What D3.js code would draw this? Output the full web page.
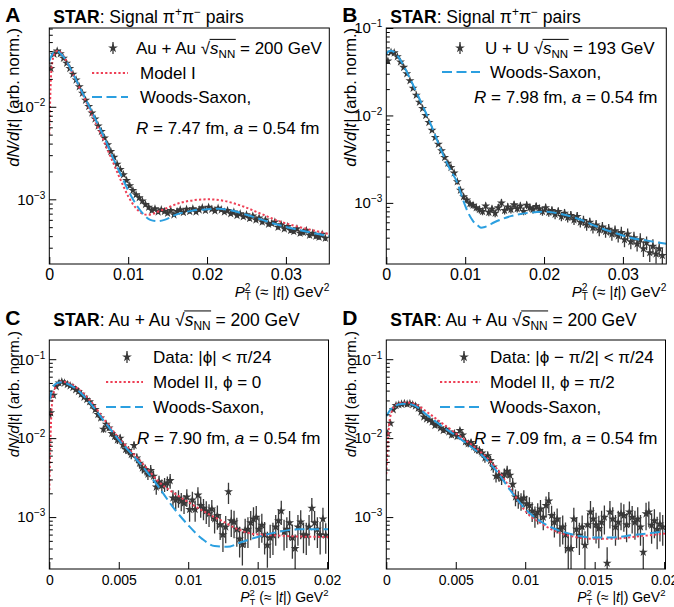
<!DOCTYPE html>
<html>
<head>
<meta charset="utf-8">
<script src="https://cdn.jsdelivr.net/npm/d3@7"></script>
<style>
  body { margin: 0; background: #fff; }
  svg { font-family: "Liberation Sans", Arial, sans-serif; }
</style>
</head>
<body>
<svg id="fig" width="674" height="607"></svg>
<script>
// values are in units of 1e-5, errors are relative (%)
const unit = 1e-5;

// A: Au+Au 200 GeV, bins of 0.0004 GeV^2
const binA = 0.0004;
const yA = [2600, 3700, 4000, 3750, 3350, 2950, 2600, 2250, 1950, 1650,
  1400, 1180, 1010, 860, 740, 620, 540, 460, 390, 330,
  285, 240, 210, 185, 160, 140, 125, 112, 104, 96,
  88, 82, 76, 79, 73, 77, 74, 71, 76, 68,
  74, 77, 72, 78, 74, 79, 73, 77, 81, 76,
  82, 78, 75, 80, 77, 73, 76, 70, 73, 67,
  70, 65, 68, 62, 66, 60, 63, 57, 60, 54,
  55, 57, 50, 53, 48, 51, 46, 45, 48, 43,
  44, 46, 41, 43, 40, 39, 42, 38];
const eA = [6, 3, 2, 2, 2, 2, 2, 2, 2, 2,
  2, 2, 2, 2, 3, 3, 3, 3, 3, 3,
  3, 3, 4, 4, 4, 4, 4, 4, 4, 4,
  5, 5, 5, 5, 5, 5, 5, 5, 5, 5,
  5, 5, 5, 5, 5, 5, 5, 5, 5, 5,
  5, 5, 5, 5, 5, 5, 5, 5, 5, 5,
  6, 6, 6, 6, 6, 6, 6, 6, 6, 6,
  6, 6, 6, 6, 6, 6, 6, 6, 6, 6,
  7, 7, 7, 7, 7, 7, 7, 7];
const wsAx = [0, 0.0003, 0.0006, 0.001, 0.0015, 0.002, 0.003, 0.004, 0.005, 0.006, 0.007, 0.008, 0.009, 0.010, 0.011, 0.012, 0.0128, 0.0137, 0.0146, 0.016, 0.018, 0.020, 0.0215, 0.023, 0.025, 0.027, 0.029, 0.031, 0.033, 0.0355];
const wsAy = [0.031, 0.036, 0.039, 0.0395, 0.037, 0.033, 0.0228, 0.0153, 0.0103, 0.0069, 0.0046, 0.0029, 0.0019, 0.00125, 0.00088, 0.00068, 0.0006, 0.00058, 0.0006, 0.00068, 0.00075, 0.00078, 0.00079, 0.00076, 0.00068, 0.0006, 0.00053, 0.00048, 0.00044, 0.0004];
const m1Ax = [0, 0.0001, 0.0002, 0.0004, 0.0007, 0.001, 0.0015, 0.002, 0.003, 0.004, 0.005, 0.006, 0.007, 0.008, 0.009, 0.010, 0.011, 0.0118, 0.0125, 0.0142, 0.0163, 0.0184, 0.0201, 0.0222, 0.0247, 0.0268, 0.0289, 0.031, 0.0331, 0.0355];
const m1Ay = [0.005, 0.011, 0.02, 0.031, 0.038, 0.040, 0.038, 0.033, 0.0225, 0.0150, 0.0098, 0.0064, 0.0041, 0.0026, 0.00165, 0.00108, 0.0008, 0.0007, 0.00068, 0.00076, 0.0009, 0.00098, 0.001, 0.00096, 0.00083, 0.0007, 0.00059, 0.00052, 0.00047, 0.00042];

// B: U+U 193 GeV, bins of 0.0004 GeV^2
const binB = 0.0004;
const yB = [4200, 5300, 5200, 4700, 4100, 3550, 3000, 2500, 2050, 1700,
  1420, 1200, 1000, 830, 680, 560, 470, 395, 330, 285,
  255, 220, 175, 140, 118, 108, 98, 94, 88, 84,
  80, 92, 78, 85, 76, 88, 100, 82, 90, 84,
  95, 86, 92, 80, 94, 88, 84, 91, 86, 80,
  88, 78, 82, 74, 80, 70, 76, 68, 72, 64,
  70, 60, 63, 56, 60, 52, 56, 49, 53, 47,
  50, 44, 48, 42, 46, 38, 44, 36, 40, 34,
  38, 30, 35, 27, 32, 26, 30, 25];
const eB = [6, 3, 2, 2, 2, 2, 2, 2, 2, 3,
  3, 3, 3, 3, 4, 4, 4, 5, 5, 5,
  6, 6, 7, 7, 8, 8, 9, 9, 9, 10,
  10, 10, 10, 10, 10, 10, 11, 10, 10, 10,
  10, 10, 10, 10, 10, 10, 10, 10, 11, 11,
  11, 11, 11, 12, 11, 12, 12, 12, 12, 13,
  12, 13, 13, 14, 13, 14, 14, 15, 14, 15,
  15, 16, 15, 16, 16, 18, 16, 18, 17, 18,
  18, 20, 18, 22, 20, 22, 20, 22];
const wsBx = [0, 0.0003, 0.0006, 0.001, 0.0015, 0.002, 0.003, 0.004, 0.005, 0.006, 0.007, 0.008, 0.009, 0.0097, 0.0103, 0.011, 0.0116, 0.012, 0.0125, 0.0137, 0.0159, 0.018, 0.0202, 0.0223, 0.0245, 0.0266, 0.0288, 0.0309, 0.0331, 0.0355];
const wsBy = [0.05, 0.054, 0.055, 0.053, 0.047, 0.040, 0.0265, 0.017, 0.0108, 0.0066, 0.0039, 0.0025, 0.0017, 0.0011, 0.0008, 0.00062, 0.00055, 0.00052, 0.00053, 0.0006, 0.00071, 0.00077, 0.00079, 0.00074, 0.00065, 0.00054, 0.00046, 0.0004, 0.00037, 0.00034];

// C: Au+Au, |phi| < pi/24, bins of 0.0002 GeV^2
const binC = 0.0002;
const yC = [2100, 3500, 4500, 5000, 5200, 5000, 4800, 4600, 4400, 4100,
  3900, 3600, 3300, 3100, 2900, 2600, 2300, 2000, 1800, 1300,
  1500, 1350, 1150, 1050, 950, 1000, 820, 720, 700, 620,
  810, 560, 480, 420, 400, 350, 390, 330, 240, 280,
  250, 260, 270, 290, 175, 165, 175, 160, 150, 180,
  125, 165, 125, 190, 140, 130, 120, 110, 127, 95,
  105, 80, 60, 75, 210, 90, 87, 70, 53, 45,
  68, 70, 85, 95, 100, 70, 79, 60, 44, 55,
  59, 75, 90, 120, 65, 70, 85, 55, 40, 75,
  87, 60, 59, 75, 130, 85, 70, 60, 95, 59];
const eC = [15, 8, 5, 4, 4, 4, 4, 4, 4, 5,
  5, 5, 5, 6, 6, 6, 7, 7, 8, 10,
  9, 9, 10, 10, 11, 11, 12, 12, 13, 13,
  12, 14, 15, 15, 16, 16, 17, 18, 20, 19,
  20, 20, 21, 21, 25, 25, 25, 26, 27, 25,
  30, 27, 30, 26, 30, 30, 32, 32, 30, 35,
  34, 36, 40, 38, 30, 38, 38, 40, 42, 46,
  40, 42, 40, 40, 38, 42, 40, 44, 48, 45,
  44, 42, 40, 34, 42, 42, 40, 46, 50, 42,
  40, 42, 44, 42, 34, 40, 42, 44, 38, 42];
const wsCx = [0, 0.0002, 0.0005, 0.0009, 0.0015, 0.002, 0.003, 0.004, 0.005, 0.006, 0.007, 0.0078, 0.009, 0.010, 0.011, 0.0119, 0.0128, 0.0138, 0.015, 0.0165, 0.0179, 0.0201];
const wsCy = [0.03, 0.042, 0.049, 0.051, 0.047, 0.041, 0.027, 0.016, 0.0095, 0.0061, 0.0038, 0.0025, 0.00127, 0.00079, 0.00053, 0.00043, 0.00042, 0.00048, 0.00056, 0.00065, 0.0007, 0.0007];
const m2Cx = [0, 0.0001, 0.0002, 0.0004, 0.0006, 0.0009, 0.0015, 0.002, 0.003, 0.004, 0.005, 0.006, 0.007, 0.0078, 0.009, 0.010, 0.0112, 0.0124, 0.0136, 0.0145, 0.016, 0.0177, 0.0201];
const m2Cy = [0.0022, 0.012, 0.028, 0.042, 0.049, 0.052, 0.049, 0.043, 0.029, 0.0168, 0.0101, 0.0065, 0.0042, 0.0029, 0.002, 0.00155, 0.00116, 0.0009, 0.0007, 0.00062, 0.00059, 0.00057, 0.00056];

// D: Au+Au, |phi - pi/2| < pi/24, bins of 0.0002 GeV^2
const binD = 0.0002;
const yD = [1150, 1550, 2300, 2600, 2650, 2700, 2750, 2700, 2750, 2650,
  2550, 2400, 2150, 1850, 1750, 1700, 1600, 1450, 1500, 1350,
  1250, 1300, 1200, 1100, 1150, 1050, 1250, 1100, 900, 850,
  880, 780, 720, 700, 650, 560, 600, 520, 430, 330,
  340, 310, 350, 380, 340, 260, 180, 170, 160, 175,
  148, 140, 120, 105, 115, 127, 100, 140, 160, 105,
  86, 95, 70, 75, 60, 40, 40, 95, 70, 59,
  75, 44, 80, 116, 95, 80, 72, 86, 100, 26,
  116, 95, 75, 86, 110, 105, 80, 116, 100, 86,
  95, 75, 36, 110, 116, 79, 90, 70, 82, 75];
const eD = [8, 6, 4, 4, 4, 4, 4, 4, 4, 4,
  4, 4, 5, 5, 5, 5, 6, 6, 6, 6,
  7, 7, 7, 8, 8, 8, 8, 9, 10, 10,
  10, 11, 11, 12, 12, 13, 13, 14, 15, 17,
  17, 18, 18, 18, 19, 20, 24, 25, 25, 25,
  26, 27, 28, 30, 30, 30, 32, 30, 30, 33,
  36, 35, 40, 40, 42, 55, 55, 38, 42, 44,
  40, 50, 42, 38, 40, 42, 44, 40, 40, 60,
  38, 40, 42, 40, 38, 38, 40, 36, 38, 40,
  40, 42, 55, 38, 36, 42, 40, 44, 40, 42];
const wsDx = [0, 0.0003, 0.0007, 0.0011, 0.0015, 0.002, 0.003, 0.004, 0.005, 0.006, 0.007, 0.008, 0.009, 0.010, 0.0112, 0.0124, 0.0136, 0.0148, 0.0162, 0.0177, 0.0201];
const wsDy = [0.019, 0.023, 0.026, 0.027, 0.0272, 0.026, 0.0192, 0.0142, 0.0108, 0.008, 0.0058, 0.0037, 0.0021, 0.00127, 0.00086, 0.00068, 0.00059, 0.00055, 0.00055, 0.00059, 0.00066];
const m2Dx = [0, 0.0001, 0.0002, 0.0004, 0.0007, 0.0011, 0.0015, 0.002, 0.003, 0.004, 0.005, 0.006, 0.007, 0.008, 0.009, 0.010, 0.0112, 0.0124, 0.0136, 0.0148, 0.0162, 0.0177, 0.0201];
const m2Dy = [0.0035, 0.008, 0.0145, 0.022, 0.0265, 0.028, 0.0282, 0.0272, 0.021, 0.0155, 0.0115, 0.0086, 0.0062, 0.004, 0.0022, 0.0012, 0.00082, 0.00064, 0.00056, 0.00053, 0.00053, 0.00056, 0.00062];

// axis ticks
const xTicksAB = [0, 0.01, 0.02, 0.03];
const xTicksCD = [0, 0.005, 0.01, 0.015, 0.02];
const yDecades = [1e-1, 1e-2, 1e-3];

const red = '#ee3f55', blue = '#2b9fe0', ink = '#383838';

const svg = d3.select('#fig');

// text with bold/italic/super/subscript pieces
function rich(parent, x, y, size, segs, anchor) {
  const t = parent.append('text').attr('x', x).attr('y', y)
    .attr('font-size', size).attr('text-anchor', anchor || 'start');
  let shift = 0;
  segs.forEach(s => {
    const ts = t.append('tspan').text(s.t);
    let target = 0;
    if (s.sup) target = -size * 0.4;
    if (s.sub) target = size * 0.22;
    if (target - shift) ts.attr('dy', target - shift);
    shift = target;
    if (s.sup || s.sub) ts.attr('font-size', size * 0.68);
    if (s.b) ts.attr('font-weight', 'bold');
    if (s.i) ts.attr('font-style', 'italic');
    if (s.dx) ts.attr('dx', s.dx);
  });
  return t;
}

// draws the bar of the square root over s_NN
function rootBar(t, size) {
  const node = t.node();
  const str = node.textContent;
  const i0 = str.indexOf('√'), i1 = str.indexOf('NN') + 1;
  const x0 = node.getEndPositionOfChar(i0).x - 0.5;
  const x1 = node.getEndPositionOfChar(i1).x + 0.5;
  const yb = +t.attr('y') - size * 0.86;
  d3.select(node.parentNode).append('line')
    .attr('x1', x0).attr('x2', x1).attr('y1', yb).attr('y2', yb)
    .attr('stroke', '#000').attr('stroke-width', 1);
}

const sNN = [{ t: '√' }, { t: 's', i: true }, { t: 'NN', sub: true }];

function drawPanel(p) {
  const x = d3.scaleLinear().domain([0, p.xMax]).range([p.left, p.right]);
  const y = d3.scaleLog().domain([p.yMin, p.yMax]).range([p.bottom, p.top]);
  const g = svg.append('g');

  g.append('clipPath').attr('id', 'clip' + p.key).append('rect')
    .attr('x', p.left).attr('y', p.top)
    .attr('width', p.right - p.left).attr('height', p.bottom - p.top);
  const plot = g.append('g').attr('clip-path', `url(#clip${p.key})`);

  const pts = p.vals.map((v, i) => ({ x: (i + 0.5) * p.bin, y: v * unit, e: v * unit * p.errs[i] / 100 }));

  plot.selectAll('line.err').data(pts).enter().append('line')
    .attr('class', 'err')
    .attr('x1', d => x(d.x)).attr('x2', d => x(d.x))
    .attr('y1', d => y(Math.max(d.y - d.e, p.yMin * 0.5)))
    .attr('y2', d => y(d.y + d.e))
    .attr('stroke', ink).attr('stroke-width', 1.3);

  const star = d3.symbol().type(d3.symbolStar).size(25);
  plot.selectAll('path.pt').data(pts).enter().append('path')
    .attr('class', 'pt')
    .attr('d', star)
    .attr('transform', d => `translate(${x(d.x)},${y(d.y)})`)
    .attr('fill', ink);

  const line = d3.line().x(d => x(d[0])).y(d => y(d[1])).curve(d3.curveMonotoneX);
  if (p.model) {
    plot.append('path').attr('d', line(d3.zip(p.model[0], p.model[1])))
      .attr('fill', 'none').attr('stroke', red).attr('stroke-width', 2)
      .attr('stroke-dasharray', '2.2,2.2');
  }
  plot.append('path').attr('d', line(d3.zip(p.ws[0], p.ws[1])))
    .attr('fill', 'none').attr('stroke', blue).attr('stroke-width', 2)
    .attr('stroke-dasharray', '10,4.5');

  // axes
  const xa = d3.axisBottom(x).tickValues(p.xt).tickSize(-7).tickPadding(p.xtickPad)
    .tickFormat(d => d === 0 ? '0' : String(d));
  const gx = g.append('g').attr('transform', `translate(0,${p.bottom})`).call(xa);
  gx.attr('font-family', null).attr('font-size', p.xtickSize);
  gx.select('.domain').remove();

  const minors = [];
  [1e-4, 1e-3, 1e-2, 1e-1].forEach(dec => {
    for (let k = 2; k <= 9; k++) if (dec * k > p.yMin && dec * k < p.yMax) minors.push(dec * k);
  });
  const gym = g.append('g').attr('transform', `translate(${p.left},0)`)
    .call(d3.axisLeft(y).tickValues(minors).tickSize(-3.5).tickFormat(''));
  gym.select('.domain').remove();

  const ya = d3.axisLeft(y).tickValues(yDecades.filter(v => v >= p.yMin && v <= p.yMax * 1.01))
    .tickSize(-7).tickPadding(4).tickFormat(() => '10');
  const gy = g.append('g').attr('transform', `translate(${p.left},0)`).call(ya);
  gy.attr('font-family', null).attr('font-size', 15);
  gy.select('.domain').remove();
  gy.selectAll('.tick text').append('tspan').attr('dy', -6).attr('font-size', 10)
    .text(d => '−' + Math.round(-Math.log10(d)));

  g.append('rect').attr('x', p.left).attr('y', p.top)
    .attr('width', p.right - p.left).attr('height', p.bottom - p.top)
    .attr('fill', 'none').attr('stroke', '#000').attr('stroke-width', 1);

  // axis titles
  const yt = rich(g, 0, 0, p.ylabSize, [{ t: 'dN/d|t|', i: true }, { t: ' (arb. norm.)' }], 'end');
  yt.attr('transform', `translate(${p.left - 30},${p.ylabTop}) rotate(-90)`);
  rich(g, p.right, p.xlabY, p.xlabSize, [{ t: 'P', i: true }, { t: '2', sup: true },
    { t: 'T', sub: true, dx: -p.xlabSize * 0.38 }, { t: ' (≈ |' }, { t: 't', i: true }, { t: '|) GeV' }, { t: '2', sup: true }], 'end');

  // panel letter and title
  g.append('text').attr('x', p.left - 44).attr('y', p.labY).attr('font-size', 21)
    .attr('font-weight', 'bold').text(p.key);
  const tt = rich(g, p.left + 4, p.labY + 1, 17.5, p.title);
  if (p.titleRoot) rootBar(tt, 17.5);

  // legend
  const L = p.legend;
  const lg = g.append('g');
  lg.append('line').attr('x1', L.mx).attr('x2', L.mx).attr('y1', L.rows[0] - 6).attr('y2', L.rows[0] + 6)
    .attr('stroke', ink).attr('stroke-width', 1.3);
  lg.append('path').attr('d', d3.symbol().type(d3.symbolStar).size(30)())
    .attr('transform', `translate(${L.mx},${L.rows[0]})`).attr('fill', ink);
  L.items.forEach((it, i) => {
    const yy = L.rows[i];
    if (it.style) {
      lg.append('line').attr('x1', L.lx0).attr('x2', L.lx1).attr('y1', yy).attr('y2', yy)
        .attr('stroke', it.style === 'model' ? red : blue).attr('stroke-width', 2)
        .attr('stroke-dasharray', it.style === 'model' ? '2.2,2.2' : '10,4.5');
    }
    const t = rich(lg, it.x, yy + 6, 17, it.segs);
    if (it.root) rootBar(t, 17);
  });
}

const rLine = (r) => [{ t: 'R', i: true }, { t: ` = ${r} fm, ` }, { t: 'a', i: true }, { t: ' = 0.54 fm' }];

const panels = [
  {
    key: 'A', left: 49.3, right: 329.3, top: 28, bottom: 264, xMax: 0.0355, yMin: 2e-4, yMax: 0.071,
    bin: binA, vals: yA, errs: eA, ws: [wsAx, wsAy], model: [m1Ax, m1Ay], xt: xTicksAB,
    xtickSize: 16, xtickPad: 5,
    ylabSize: 16.5, ylabTop: 28, xlabSize: 15, xlabY: 297, labY: 22,
    title: [{ t: 'STAR', b: true }, { t: ': Signal π' }, { t: '+', sup: true }, { t: 'π' }, { t: '−', sup: true }, { t: ' pairs' }],
    legend: {
      mx: 113, lx0: 92, lx1: 128, rows: [48, 73, 97, 128],
      items: [
        { x: 136, segs: [{ t: 'Au + Au ' }].concat(sNN, [{ t: ' = 200 GeV' }]), root: true },
        { x: 140, style: 'model', segs: [{ t: 'Model I' }] },
        { x: 140, style: 'ws', segs: [{ t: 'Woods-Saxon,' }] },
        { x: 136, segs: rLine('7.47') }
      ]
    }
  },
  {
    key: 'B', left: 386.3, right: 666.3, top: 28, bottom: 264, xMax: 0.0355, yMin: 2e-4, yMax: 0.1,
    bin: binB, vals: yB, errs: eB, ws: [wsBx, wsBy], model: null, xt: xTicksAB,
    xtickSize: 16, xtickPad: 5,
    ylabSize: 16.5, ylabTop: 28, xlabSize: 15, xlabY: 297, labY: 22,
    title: [{ t: 'STAR', b: true }, { t: ': Signal π' }, { t: '+', sup: true }, { t: 'π' }, { t: '−', sup: true }, { t: ' pairs' }],
    legend: {
      mx: 460, lx0: 442, lx1: 480, rows: [48, 72, 97],
      items: [
        { x: 485, segs: [{ t: 'U + U ' }].concat(sNN, [{ t: ' = 193 GeV' }]), root: true },
        { x: 490, style: 'ws', segs: [{ t: 'Woods-Saxon,' }] },
        { x: 474, segs: rLine('7.98') }
      ]
    }
  },
  {
    key: 'C', left: 49.3, right: 328.5, top: 340, bottom: 569, xMax: 0.0201, yMin: 2.2e-4, yMax: 0.175,
    bin: binC, vals: yC, errs: eC, ws: [wsCx, wsCy], model: [m2Cx, m2Cy], xt: xTicksCD,
    xtickSize: 14, xtickPad: 6,
    ylabSize: 15, ylabTop: 331, xlabSize: 14, xlabY: 602, labY: 325,
    title: [{ t: 'STAR', b: true }, { t: ': Au + Au ' }].concat(sNN, [{ t: ' = 200 GeV' }]), titleRoot: true,
    legend: {
      mx: 127, lx0: 106, lx1: 143, rows: [357, 382, 407, 438],
      items: [
        { x: 153, segs: [{ t: 'Data: |ϕ| < π/24' }] },
        { x: 153, style: 'model', segs: [{ t: 'Model II, ϕ = 0' }] },
        { x: 153, style: 'ws', segs: [{ t: 'Woods-Saxon,' }] },
        { x: 137, segs: rLine('7.90') }
      ]
    }
  },
  {
    key: 'D', left: 386.3, right: 665.5, top: 340, bottom: 569, xMax: 0.0201, yMin: 2.2e-4, yMax: 0.175,
    bin: binD, vals: yD, errs: eD, ws: [wsDx, wsDy], model: [m2Dx, m2Dy], xt: xTicksCD,
    xtickSize: 14, xtickPad: 6,
    ylabSize: 15, ylabTop: 331, xlabSize: 14, xlabY: 602, labY: 325,
    title: [{ t: 'STAR', b: true }, { t: ': Au + Au ' }].concat(sNN, [{ t: ' = 200 GeV' }]), titleRoot: true,
    legend: {
      mx: 464, lx0: 440, lx1: 480, rows: [357, 382, 407, 438],
      items: [
        { x: 490, segs: [{ t: 'Data: |ϕ − π/2| < π/24' }] },
        { x: 490, style: 'model', segs: [{ t: 'Model II, ϕ = π/2' }] },
        { x: 490, style: 'ws', segs: [{ t: 'Woods-Saxon,' }] },
        { x: 474, segs: rLine('7.09') }
      ]
    }
  }
];

panels.forEach(drawPanel);
</script>
</body>
</html>
